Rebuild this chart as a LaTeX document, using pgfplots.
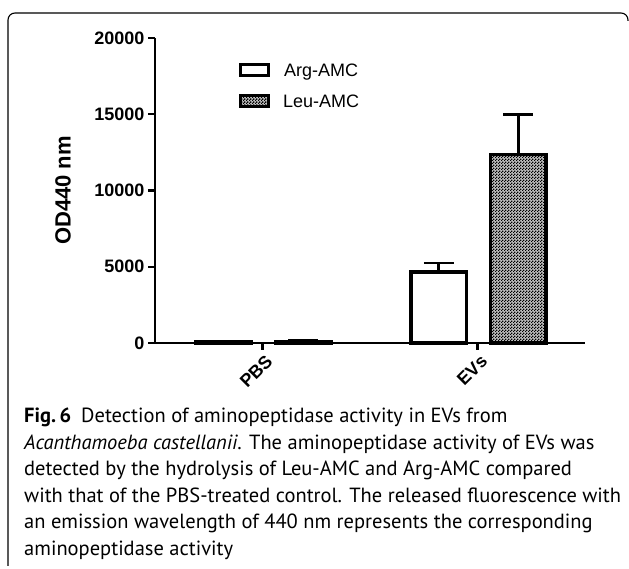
\documentclass[border=0pt]{standalone}
\usepackage{fontspec}
\setmainfont{Liberation Sans}
\newfontfamily\capfont{PT Sans}
\usepackage{pgfplots}
\pgfplotsset{compat=1.18}
\usetikzlibrary{patterns}

% fine black/white checker for the Leu-AMC bars
\pgfdeclarepatternformonly{finecheck}{\pgfpointorigin}{\pgfqpoint{3bp}{3bp}}{\pgfqpoint{3bp}{3bp}}{%
  \pgfpathrectangle{\pgfpointorigin}{\pgfqpoint{1.6bp}{1.6bp}}%
  \pgfpathrectangle{\pgfqpoint{1.5bp}{1.5bp}}{\pgfqpoint{1.6bp}{1.6bp}}%
  \pgfusepath{fill}}

\begin{document}
\begin{tikzpicture}
\path[use as bounding box] (0bp,0bp) rectangle (629bp,569bp);
% panel frame
\draw[line width=1.1bp] (8bp,3bp) -- (8bp,549bp) arc[start angle=180,end angle=90,radius=7bp] -- (621bp,556bp) arc[start angle=90,end angle=0,radius=7bp] -- (628bp,548bp);

\begin{axis}[
  at={(155bp,226bp)}, anchor=south west,
  width=430bp, height=305bp, scale only axis,
  axis lines=left,
  axis line style={-, line width=2.6bp},
  xmin=-0.5, xmax=1.5,
  ymin=0, ymax=20000,
  xtick={0,1}, xticklabels={PBS,EVs},
  ytick={0,5000,10000,15000,20000},
  scaled ticks=false,
  /pgf/number format/1000 sep={},
  /pgf/number format/assume math mode=true,
  tick align=outside,
  major tick length=7bp,
  tick style={line width=2.2bp, black},
  every tick label/.append style={font=\fontsize{18bp}{20bp}\selectfont\bfseries},
  xticklabel style={rotate=45, anchor=north east, inner sep=1bp, yshift=-3bp},
  ylabel={OD440 nm},
  ylabel style={font=\fontsize{22bp}{24bp}\selectfont\bfseries, at={(axis description cs:-0.214,0.5)}, anchor=center},
  ybar, bar width=0.257,
  clip=false,
  legend style={draw=none, fill=none, at={(0.188,0.93)}, anchor=north west,
    font=\fontsize{18bp}{20bp}\selectfont, row sep=13bp,
    /tikz/every odd column/.append style={column sep=11bp}},
  legend image code/.code={\draw[#1, line width=3bp] (0bp,-5bp) rectangle (28bp,6bp);},
  error bars/y dir=plus, error bars/y explicit,
  error bars/error bar style={line width=2.8bp, black},
  error bars/error mark options={rotate=90, mark size=15bp, line width=2.8bp, black},
]
\addplot[draw=black, fill=white, line width=3.5bp, bar shift=-0.18]
  coordinates {(0,90) +- (0,30) (1,4650) +- (0,600)};
\addplot[draw=black, fill=black!25, postaction={pattern=finecheck, pattern color=black}, line width=3.5bp, bar shift=0.19]
  coordinates {(0,110) +- (0,30) (1,12350) +- (0,2650)};
\legend{Arg-AMC,Leu-AMC}
\end{axis}

% caption
\begin{scope}[every node/.style={anchor=base west, inner sep=0}]
\capfont\fontsize{20.5bp}{22bp}\selectfont
\node at (24bp,146bp) {\textbf{Fig.\,6}\hspace{10bp}Detection of aminopeptidase activity in EVs from};
\node at (24bp,119.5bp) {\textit{Acanthamoeba castellanii}. The aminopeptidase activity of EVs was};
\node at (24bp,93bp) {detected by the hydrolysis of Leu-AMC and Arg-AMC compared};
\node at (24bp,66.5bp) {with that of the PBS-treated control. The released fluorescence with};
\node at (24bp,40bp) {an emission wavelength of 440 nm represents the corresponding};
\node at (24bp,13.5bp) {aminopeptidase activity};
\end{scope}
\end{tikzpicture}
\end{document}
